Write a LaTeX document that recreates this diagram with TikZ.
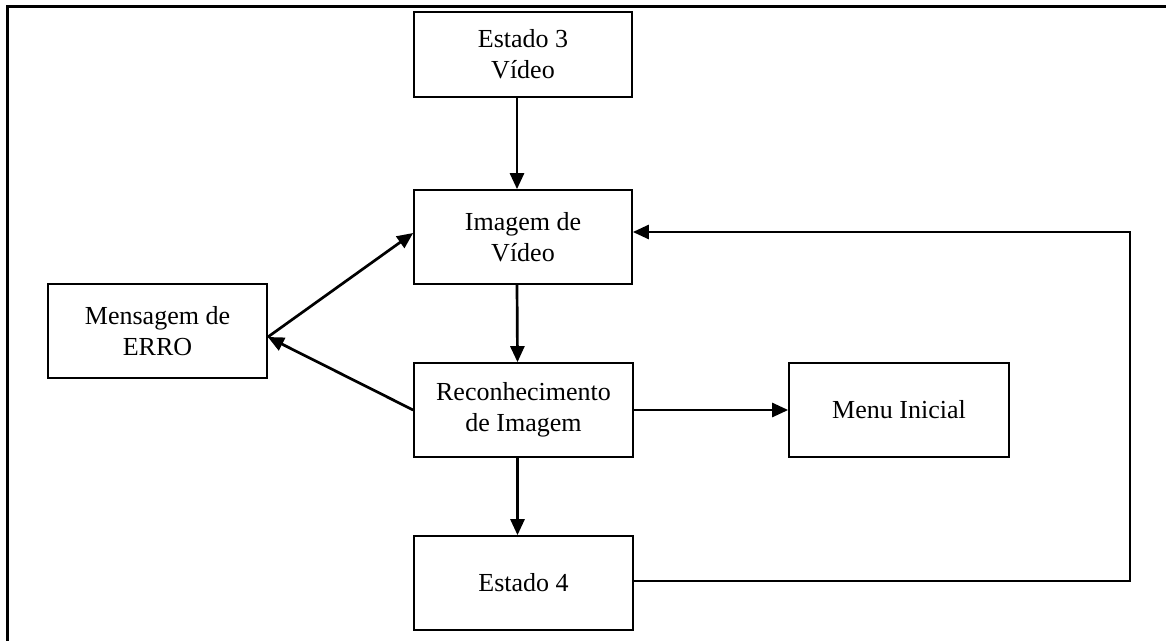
\documentclass[tikz,border=0pt]{standalone}
\usepackage{fontspec}
\setmainfont{Liberation Serif}
\usetikzlibrary{arrows.meta}
\begin{document}
\begin{tikzpicture}[x=1pt,y=-1pt,
  stbox/.style={draw,line width=1.7pt,minimum width=218pt,minimum height=94pt,
    inner sep=0pt,align=center,font=\fontsize{26}{31}\selectfont},
  flow/.style={line width=2.7pt,-{Triangle[length=16pt,width=14pt]}},
  frameline/.style={line width=3pt}]
\useasboundingbox (0,0) rectangle (1166,640);
% outer frame (left and top edges)
\draw[frameline] (7,641) -- (7,6) -- (1167,6);
% states
\node[stbox,minimum height=85pt] (e3)  at (523,54.5) {Estado 3\\Vídeo};
\node[stbox] (img) at (523,237) {Imagem de\\Vídeo};
\node[stbox,minimum width=219pt] (msg) at (157.5,331) {Mensagem de\\ERRO};
\node[stbox,minimum width=219pt] (rec) at (523.5,410) {Reconhecimento\\de Imagem};
\node[stbox,minimum width=220pt] (menu) at (899,410) {Menu Inicial};
\node[stbox,minimum width=219pt] (e4)  at (523.5,583) {Estado 4};
\coordinate (loopA) at (1130,581);
\coordinate (loopB) at (1130,232);
% transitions
\draw[flow] ([xshift=-6pt]e3.south) -- ([xshift=-6pt]img.north);
\draw[flow] ([xshift=-6pt]img.south) -- ([xshift=-6pt]rec.north);
\draw[flow] ([xshift=-6pt]rec.south) -- ([xshift=-6pt]e4.north);
\draw[flow] (rec.east) -- (menu.west);
\draw[flow] ([yshift=-6pt]msg.east) -- ([yshift=4pt]img.west);
\draw[flow] (rec.west) -- ([yshift=-6pt]msg.east);
\draw[flow] (e4.east |- loopA) -- (loopA) -- (loopB) -- (img.east |- loopB);
\end{tikzpicture}
\end{document}
